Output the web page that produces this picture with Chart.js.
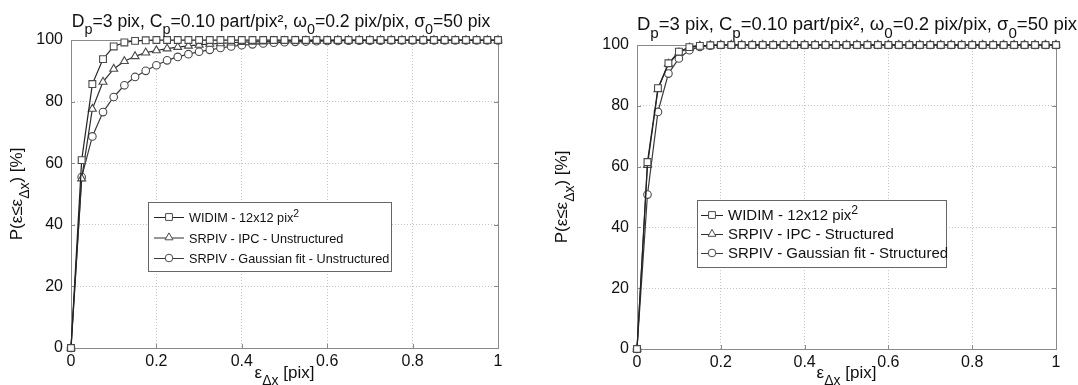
<!DOCTYPE html>
<html lang="en">
<head>
<meta charset="UTF-8">
<title>PIV error distribution</title>
<script src="https://cdn.jsdelivr.net/npm/chart.js"></script>
<style>
  html, body { margin: 0; padding: 0; background: #fff; }
  .wrap { position: relative; width: 1078px; height: 385px; }
  .panel { position: absolute; top: 0; height: 385px; }
  #left { left: 0; width: 540px; }
  #right { left: 540px; width: 538px; }
</style>
</head>
<body>
<div class="wrap">
  <div class="panel" id="left"><canvas id="chartL" width="540" height="385"></canvas></div>
  <div class="panel" id="right"><canvas id="chartR" width="538" height="385"></canvas></div>
</div>
<script>
// error threshold (pix)
const errX = [0, 0.025, 0.05, 0.075, 0.1, 0.125, 0.15, 0.175, 0.2, 0.225,
  0.25, 0.275, 0.3, 0.325, 0.35, 0.375, 0.4, 0.425, 0.45, 0.475,
  0.5, 0.525, 0.55, 0.575, 0.6, 0.625, 0.65, 0.675, 0.7, 0.725,
  0.75, 0.775, 0.8, 0.825, 0.85, 0.875, 0.9, 0.925, 0.95, 0.975, 1];

// left panel: unstructured
const widimL = [0, 61, 85.7, 93.8, 97.9, 99.2, 99.7, 99.9, 100, 100,
  100, 100, 100, 100, 100, 100, 100, 100, 100, 100,
  100, 100, 100, 100, 100, 100, 100, 100, 100, 100,
  100, 100, 100, 100, 100, 100, 100, 100, 100, 100, 100];
const ipcUnstr = [0, 55, 77.6, 86.4, 90.6, 93.1, 94.7, 95.9, 96.6, 97.2,
  97.7, 98.1, 98.4, 98.7, 98.9, 99.1, 99.3, 99.4, 99.5, 99.6,
  99.7, 99.7, 99.8, 99.8, 99.8, 99.9, 99.9, 99.9, 99.9, 99.9,
  99.9, 99.9, 99.9, 99.9, 99.9, 99.9, 99.9, 99.9, 99.9, 99.9, 99.9];
const gaussUnstr = [0, 55.5, 68.7, 76.6, 81.5, 85.3, 88, 90, 91.8, 93.4,
  94.5, 95.4, 96.2, 96.8, 97.4, 97.9, 98.3, 98.6, 98.9, 99.1,
  99.3, 99.4, 99.5, 99.6, 99.7, 99.7, 99.8, 99.8, 99.8, 99.8,
  99.9, 99.9, 99.9, 99.9, 99.9, 99.9, 99.9, 99.9, 99.9, 99.9, 99.9];

// right panel: structured
const widimR = [0, 61.5, 85.8, 94, 97.8, 99.3, 99.7, 99.9, 100, 100,
  100, 100, 100, 100, 100, 100, 100, 100, 100, 100,
  100, 100, 100, 100, 100, 100, 100, 100, 100, 100,
  100, 100, 100, 100, 100, 100, 100, 100, 100, 100, 100];
const ipcStr = [0, 60.5, 85.4, 93.8, 97.5, 99.1, 99.7, 99.9, 100, 100,
  100, 100, 100, 100, 100, 100, 100, 100, 100, 100,
  100, 100, 100, 100, 100, 100, 100, 100, 100, 100,
  100, 100, 100, 100, 100, 100, 100, 100, 100, 100, 100];
const gaussStr = [0, 50.8, 78, 90.6, 95.6, 98.3, 99.4, 99.8, 100, 100,
  100, 100, 100, 100, 100, 100, 100, 100, 100, 100,
  100, 100, 100, 100, 100, 100, 100, 100, 100, 100,
  100, 100, 100, 100, 100, 100, 100, 100, 100, 100, 100];

const xTicks = [0, 0.2, 0.4, 0.6, 0.8, 1];
const yTicks = [0, 20, 40, 60, 80, 100];

const legendL = ['WIDIM - 12x12 pix', 'SRPIV - IPC - Unstructured', 'SRPIV - Gaussian fit - Unstructured'];
const legendR = ['WIDIM - 12x12 pix', 'SRPIV - IPC - Structured', 'SRPIV - Gaussian fit - Structured'];

const FONT = '"Liberation Sans", Arial, sans-serif';
const markers = ['rect', 'triangle', 'circle'];
const radii = [4.8, 4.6, 3.8];

// text with sub/superscript pieces
function drawRich(ctx, parts, x, y, size, align) {
  const subSize = size * 0.82;
  let w = 0;
  parts.forEach(p => {
    ctx.font = (p.sub || p.sup ? subSize : size) + 'px ' + FONT;
    p.w = ctx.measureText(p.t).width;
    w += p.w;
  });
  let cx = align === 'center' ? x - w / 2 : x;
  ctx.textAlign = 'left';
  ctx.textBaseline = 'alphabetic';
  parts.forEach(p => {
    ctx.font = (p.sub || p.sup ? subSize : size) + 'px ' + FONT;
    let dy = p.sub ? size * 0.42 : (p.sup ? -size * 0.42 : 0);
    ctx.fillText(p.t, cx, y + dy);
    cx += p.w;
  });
}

const titleParts = () => [{t: 'D'}, {t: 'p', sub: 1}, {t: '=3 pix, C'}, {t: 'p', sub: 1},
  {t: '=0.10 part/pix², ω'}, {t: '0', sub: 1}, {t: '=0.2 pix/pix, σ'}, {t: '0', sub: 1}, {t: '=50 pix'}];
const ylabParts = () => [{t: 'P(ε≤ε'}, {t: 'Δx', sub: 1}, {t: ') [%]'}];
const xlabParts = () => [{t: 'ε'}, {t: 'Δx', sub: 1}, {t: ' [pix]'}];

function drawMarker(ctx, style, x, y, r) {
  ctx.beginPath();
  if (style === 'rect') {
    const s = r * Math.SQRT1_2;
    ctx.rect(x - s, y - s, 2 * s, 2 * s);
  } else if (style === 'triangle') {
    ctx.moveTo(x, y - r);
    ctx.lineTo(x + r * 0.866, y + r * 0.5);
    ctx.lineTo(x - r * 0.866, y + r * 0.5);
    ctx.closePath();
  } else {
    ctx.arc(x, y, r, 0, Math.PI * 2);
  }
  ctx.fillStyle = '#fff';
  ctx.fill();
  ctx.stroke();
}

const decorPlugin = {
  id: 'decor',
  beforeDatasetsDraw(chart) {
    const {ctx, chartArea: a} = chart;
    ctx.save();
    ctx.strokeStyle = '#8a8a8a';
    ctx.lineWidth = 1;
    ctx.strokeRect(Math.round(a.left) + 0.5, Math.round(a.top) + 0.5,
      Math.round(a.right - a.left), Math.round(a.bottom - a.top));
    // small inward tick marks
    const xs = chart.scales.x, ys = chart.scales.y;
    ctx.beginPath();
    xTicks.forEach(v => {
      const px = Math.round(xs.getPixelForValue(v)) + 0.5;
      ctx.moveTo(px, a.bottom); ctx.lineTo(px, a.bottom - 4);
      ctx.moveTo(px, a.top); ctx.lineTo(px, a.top + 4);
    });
    yTicks.forEach(v => {
      const py = Math.round(ys.getPixelForValue(v)) + 0.5;
      ctx.moveTo(a.left, py); ctx.lineTo(a.left + 4, py);
      ctx.moveTo(a.right, py); ctx.lineTo(a.right - 4, py);
    });
    ctx.stroke();
    ctx.restore();
  },
  afterDraw(chart) {
    const o = chart.options.plugins.decor;
    const {ctx, chartArea: a} = chart;
    ctx.save();
    ctx.fillStyle = '#111';
    drawRich(ctx, titleParts(), o.titleX, o.titleY, o.titleSize, 'center');
    drawRich(ctx, xlabParts(), (a.left + a.right) / 2, o.xlabY, 17, 'center');
    ctx.save();
    ctx.translate(o.ylabX, (a.top + a.bottom) / 2);
    ctx.rotate(-Math.PI / 2);
    drawRich(ctx, ylabParts(), 0, 0, 17, 'center');
    ctx.restore();

    // legend box
    const L = o.legend;
    ctx.fillStyle = '#fff';
    ctx.fillRect(L.x, L.y, L.w, L.h);
    ctx.strokeStyle = '#666';
    ctx.lineWidth = 1;
    ctx.strokeRect(L.x + 0.5, L.y + 0.5, L.w, L.h);
    chart.data.datasets.forEach((ds, i) => {
      const ry = L.y + L.row0 + i * L.rowGap;
      ctx.strokeStyle = ds.borderColor;
      ctx.beginPath();
      ctx.moveTo(L.x + L.line0, ry + 0.5);
      ctx.lineTo(L.x + L.line1, ry + 0.5);
      ctx.stroke();
      ctx.strokeStyle = ds.pointBorderColor;
      drawMarker(ctx, markers[i], L.x + (L.line0 + L.line1) / 2, ry, radii[i]);
      ctx.fillStyle = '#111';
      const parts = [{t: o.labels[i]}];
      if (i === 0) parts.push({t: '2', sup: 1});
      drawRich(ctx, parts, L.x + L.textX, ry + 5, L.size, 'left');
    });
    ctx.restore();
  }
};

function makeChart(id, series, labels, geo) {
  const colors = ['#222', '#2e2e2e', '#3a3a3a'];
  return new Chart(document.getElementById(id), {
    type: 'line',
    data: {
      datasets: series.map((s, i) => ({
        label: labels[i],
        data: errX.map((x, k) => ({x: x, y: s[k]})),
        borderColor: colors[i],
        borderWidth: 1.2,
        pointStyle: markers[i],
        pointRadius: radii[i],
        pointBorderColor: '#4a4a4a',
        pointBackgroundColor: '#fff',
        pointBorderWidth: 1.1,
        tension: 0,
        clip: false
      }))
    },
    options: {
      responsive: false,
      animation: false,
      layout: {padding: {left: 0, top: geo.top, right: geo.right, bottom: 0}},
      plugins: {
        legend: {display: false},
        tooltip: {enabled: false},
        decor: {
          titleX: geo.titleX, titleY: geo.titleY, titleSize: geo.titleSize,
          xlabY: 378, ylabX: geo.ylabX,
          labels: labels, legend: geo.legend
        }
      },
      scales: {
        x: {
          type: 'linear', min: 0, max: 1,
          afterFit: s => { s.height = geo.xh; },
          afterBuildTicks: s => { s.ticks = xTicks.map(v => ({value: v})); },
          grid: {color: '#c4c4c4', drawTicks: false, lineWidth: 1},
          border: {display: false, dash: [1, 2]},
          ticks: {
            color: '#111', padding: 4, maxRotation: 0,
            font: {family: FONT, size: 16},
            callback: v => String(Number(v.toFixed(1)))
          }
        },
        y: {
          min: 0, max: 100,
          afterFit: s => { s.width = geo.yw; },
          afterBuildTicks: s => { s.ticks = yTicks.map(v => ({value: v})); },
          grid: {color: '#c4c4c4', drawTicks: false, lineWidth: 1},
          border: {display: false, dash: [1, 2]},
          ticks: {
            color: '#111', padding: 8,
            font: {family: FONT, size: 16}
          }
        }
      }
    },
    plugins: [decorPlugin]
  });
}

makeChart('chartL', [widimL, ipcUnstr, gaussUnstr], legendL, {
  top: 40, right: 42, yw: 71, xh: 37, titleX: 281, titleY: 27, titleSize: 17.6, ylabX: 22,
  legend: {x: 148, y: 202, w: 243, h: 69, row0: 15, rowGap: 20.5, line0: 6, line1: 36, textX: 41, size: 12.7}
});
makeChart('chartR', [widimR, ipcStr, gaussStr], legendR, {
  top: 45, right: 22, yw: 97, xh: 36, titleX: 317, titleY: 30, titleSize: 18.5, ylabX: 27,
  legend: {x: 157, y: 200, w: 249, h: 67, row0: 15, rowGap: 19, line0: 4, line1: 26, textX: 31, size: 15}
});
</script>
</body>
</html>
